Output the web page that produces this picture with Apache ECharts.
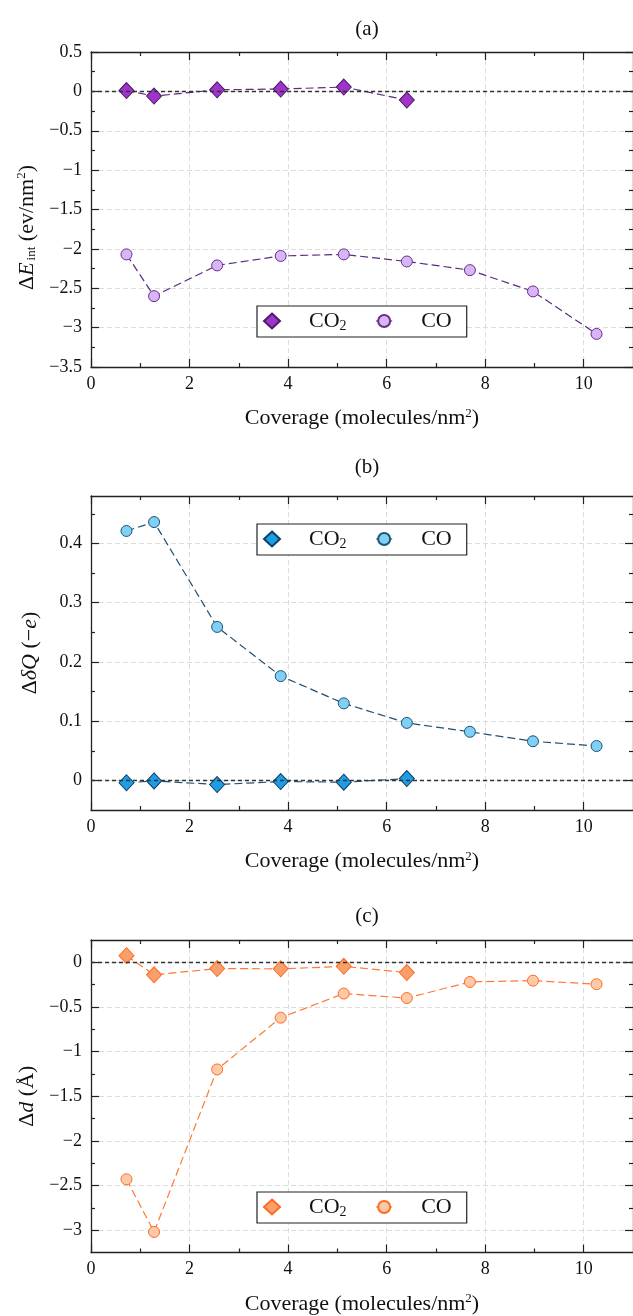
<!DOCTYPE html>
<html>
<head>
<meta charset="utf-8">
<script src="https://cdn.jsdelivr.net/npm/echarts@6/dist/echarts.min.js"></script>
<style>
html,body{margin:0;padding:0;background:#fff;}
#chart{width:633px;height:1316px;}
</style>
</head>
<body>
<div id="chart"></div>
<script>
// ---------------- data ----------------
const coverageCO2 = [0.72, 1.28, 2.56, 3.85, 5.13, 6.41];
const coverageCO = [0.72, 1.28, 2.56, 3.85, 5.13, 6.41, 7.69, 8.97, 10.26];

const eintCO2 = [0.01, -0.06, 0.02, 0.03, 0.055, -0.11];
const eintCO = [-2.07, -2.60, -2.21, -2.09, -2.07, -2.16, -2.27, -2.54, -3.08];

const dqCO2 = [-0.004, -0.001, -0.007, -0.002, -0.003, 0.003];
const dqCO = [0.421, 0.436, 0.259, 0.176, 0.130, 0.097, 0.082, 0.066, 0.058];

const ddCO2 = [0.075, -0.14, -0.07, -0.073, -0.045, -0.115];
const ddCO = [-2.43, -3.02, -1.20, -0.62, -0.35, -0.40, -0.22, -0.205, -0.245];

// ---------------- ticks ----------------
const xRange = [0, 11];
const xTicks = [0, 2, 4, 6, 8, 10];
const xMinor = [1, 3, 5, 7, 9];

const yRangeA = [-3.5, 0.5];
const yTicksA = [-3.5, -3, -2.5, -2, -1.5, -1, -0.5, 0, 0.5];
const yMinorA = [-3.25, -2.75, -2.25, -1.75, -1.25, -0.75, -0.25, 0.25];

const yRangeB = [-0.05, 0.48];
const yTicksB = [0, 0.1, 0.2, 0.3, 0.4];
const yMinorB = [0.05, 0.15, 0.25, 0.35, 0.45];

const yRangeC = [-3.25, 0.25];
const yTicksC = [-3, -2.5, -2, -1.5, -1, -0.5, 0];
const yMinorC = [-2.75, -2.25, -1.75, -1.25, -0.75, -0.25];

const panelLabels = ['(a)', '(b)', '(c)'];
const seriesNames = ['CO2', 'CO'];

// ---------------- styling ----------------
const FONT = "'Liberation Serif','Times New Roman',serif";
const nameRich = {
  n: {fontFamily: FONT, fontSize: 22, color: '#111'},
  i: {fontFamily: FONT, fontSize: 22, color: '#111', fontStyle: 'italic'},
  s: {fontFamily: FONT, fontSize: 13, color: '#111', padding: [10, 0, 0, 2]},
  p: {fontFamily: FONT, fontSize: 13, color: '#111', padding: [0, 0, 10, 0]}
};

const panels = [
  {k: 'a', top: 52, height: 315, yRange: yRangeA, yTicks: yTicksA, yMinor: yMinorA,
   co2: eintCO2, co: eintCO, titleTop: 14, legendTop: 306,
   yName: '{n|Δ}{i|E}{s|int}{n| (ev/nm}{p|2}{n|)}', yNamePad: [0, 36, 0, 0], yNameGap: 50,
   line: '#5a2a7e', co2Fill: '#a033cc', co2Border: '#4d1a66', coFill: '#d6b6f4', coBorder: '#6a2d8f'},
  {k: 'b', top: 496, height: 314, yRange: yRangeB, yTicks: yTicksB, yMinor: yMinorB,
   co2: dqCO2, co: dqCO, titleTop: 452, legendTop: 524,
   yName: '{n|Δ}{i|δQ}{n| (−}{i|e}{n|)}', yNamePad: [0, 0, 0, 0], yNameGap: 50,
   line: '#1f4f72', co2Fill: '#1d9de3', co2Border: '#0e3f63', coFill: '#80cff5', coBorder: '#1d5576'},
  {k: 'c', top: 940, height: 313, yRange: yRangeC, yTicks: yTicksC, yMinor: yMinorC,
   co2: ddCO2, co: ddCO, titleTop: 901, legendTop: 1192,
   yName: '{n|Δ}{i|d}{n| (Å)}', yNamePad: [0, 0, 0, 0], yNameGap: 52,
   line: '#ff7933', co2Fill: '#f7a06c', co2Border: '#ff6b1f', coFill: '#fdcaa9', coBorder: '#ff6b1f'}
];

const minusFmt = v => String(v).replace('-', '−');

const grid = [], xAxis = [], yAxis = [], series = [], legend = [], title = [];

panels.forEach((P, p) => {
  grid.push({left: 91, width: 546, top: P.top, height: P.height, containLabel: false});
  title.push({text: panelLabels[p], left: 362, top: P.titleTop, textAlign: 'center',
    textStyle: {fontFamily: FONT, fontSize: 21, fontWeight: 'normal', color: '#111'}});

  const baseX = {type: 'value', gridIndex: p, min: xRange[0], max: xRange[1]};
  xAxis.push(Object.assign({}, baseX, {
    position: 'bottom',
    name: '{n|Coverage (molecules/nm}{p|2}{n|)}', nameLocation: 'middle', nameGap: 40,
    nameTextStyle: {rich: nameRich},
    axisLine: {show: true, onZero: false, lineStyle: {color: '#222', width: 1.3}},
    axisTick: {show: true, inside: true, length: 8, customValues: xTicks, lineStyle: {color: '#222', width: 1.2}},
    axisLabel: {show: true, customValues: xTicks, margin: 8, fontFamily: FONT, fontSize: 18, color: '#111', formatter: minusFmt},
    splitLine: {show: true, lineStyle: {color: '#dcdcdc', type: [5, 3], width: 1}}
  }));
  xAxis.push(Object.assign({}, baseX, {
    position: 'bottom',
    axisLine: {show: false, onZero: false},
    axisTick: {show: true, inside: true, length: 4, customValues: xMinor, lineStyle: {color: '#222', width: 1.2}},
    axisLabel: {show: false}, splitLine: {show: false}
  }));
  xAxis.push(Object.assign({}, baseX, {
    position: 'top',
    axisLine: {show: true, onZero: false, lineStyle: {color: '#222', width: 1.3}},
    axisTick: {show: true, inside: true, length: 8, customValues: xTicks, lineStyle: {color: '#222', width: 1.2}},
    axisLabel: {show: false}, splitLine: {show: false}
  }));
  xAxis.push(Object.assign({}, baseX, {
    position: 'top',
    axisLine: {show: false, onZero: false},
    axisTick: {show: true, inside: true, length: 4, customValues: xMinor, lineStyle: {color: '#222', width: 1.2}},
    axisLabel: {show: false}, splitLine: {show: false}
  }));

  const baseY = {type: 'value', gridIndex: p, min: P.yRange[0], max: P.yRange[1]};
  yAxis.push(Object.assign({}, baseY, {
    position: 'left',
    name: P.yName, nameLocation: 'middle', nameGap: P.yNameGap, nameRotate: 90,
    nameTextStyle: {rich: nameRich, padding: P.yNamePad},
    axisLine: {show: true, onZero: false, lineStyle: {color: '#222', width: 1.3}},
    axisTick: {show: true, inside: true, length: 8, customValues: P.yTicks, lineStyle: {color: '#222', width: 1.2}},
    axisLabel: {show: true, customValues: P.yTicks, margin: 9, fontFamily: FONT, fontSize: 18, color: '#111', formatter: minusFmt},
    splitLine: {show: true, lineStyle: {color: '#dcdcdc', type: [5, 3], width: 1}}
  }));
  yAxis.push(Object.assign({}, baseY, {
    position: 'left',
    axisLine: {show: false, onZero: false},
    axisTick: {show: true, inside: true, length: 4, customValues: P.yMinor, lineStyle: {color: '#222', width: 1.2}},
    axisLabel: {show: false}, splitLine: {show: false}
  }));
  yAxis.push(Object.assign({}, baseY, {
    position: 'right',
    axisLine: {show: true, onZero: false, lineStyle: {color: '#222', width: 1.3}},
    axisTick: {show: true, inside: true, length: 8, customValues: P.yTicks, lineStyle: {color: '#222', width: 1.2}},
    axisLabel: {show: false}, splitLine: {show: false}
  }));
  yAxis.push(Object.assign({}, baseY, {
    position: 'right',
    axisLine: {show: false, onZero: false},
    axisTick: {show: true, inside: true, length: 4, customValues: P.yMinor, lineStyle: {color: '#222', width: 1.2}},
    axisLabel: {show: false}, splitLine: {show: false}
  }));

  const xi = 4 * p, yi = 4 * p;
  series.push({
    type: 'line', name: 'zero_' + P.k, xAxisIndex: xi, yAxisIndex: yi, data: [], z: 1,
    markLine: {silent: true, symbol: ['none', 'none'], label: {show: false},
      lineStyle: {color: '#333', type: [4, 3], width: 1.3},
      emphasis: {disabled: true}, data: [{yAxis: 0}]}
  });
  series.push({
    type: 'line', name: seriesNames[0] + '_' + P.k, xAxisIndex: xi, yAxisIndex: yi, z: 4,
    data: coverageCO2.map((x, i) => [x, P.co2[i]]),
    symbol: 'diamond', symbolSize: [15, 16],
    lineStyle: {color: P.line, width: 1.2, type: [8, 4]},
    itemStyle: {color: P.co2Fill, borderColor: P.co2Border, borderWidth: 1},
    emphasis: {disabled: true}
  });
  series.push({
    type: 'line', name: seriesNames[1] + '_' + P.k, xAxisIndex: xi, yAxisIndex: yi, z: 3,
    data: coverageCO.map((x, i) => [x, P.co[i]]),
    symbol: 'circle', symbolSize: 11,
    lineStyle: {color: P.line, width: 1.2, type: [8, 4]},
    itemStyle: {color: P.coFill, borderColor: P.coBorder, borderWidth: 1},
    emphasis: {disabled: true}
  });

  legend.push({
    left: 257, top: P.legendTop, orient: 'horizontal',
    data: [{name: seriesNames[0] + '_' + P.k, icon: 'diamond'}, {name: seriesNames[1] + '_' + P.k}],
    itemWidth: 16, itemHeight: 15, itemGap: 29,
    backgroundColor: '#fff', borderColor: '#222', borderWidth: 1.2, borderRadius: 0,
    padding: [4, 15, 4, 6],
    lineStyle: {type: 'solid', width: 1.2},
    selectedMode: false,
    formatter: name => name.startsWith('CO2') ? '{n|CO}{s|2}' : '{n|CO}',
    textStyle: {fontFamily: FONT, fontSize: 22, color: '#111', padding: [0, 0, 0, 24],
      rich: {n: {fontFamily: FONT, fontSize: 22, color: '#111'},
             s: {fontFamily: FONT, fontSize: 14, color: '#111', padding: [10, 0, 0, 0]}}}
  });
});

const chart = echarts.init(document.getElementById('chart'), null, {renderer: 'canvas'});
chart.setOption({
  animation: false,
  backgroundColor: '#fff',
  title, grid, xAxis, yAxis, series, legend
});
</script>
</body>
</html>
